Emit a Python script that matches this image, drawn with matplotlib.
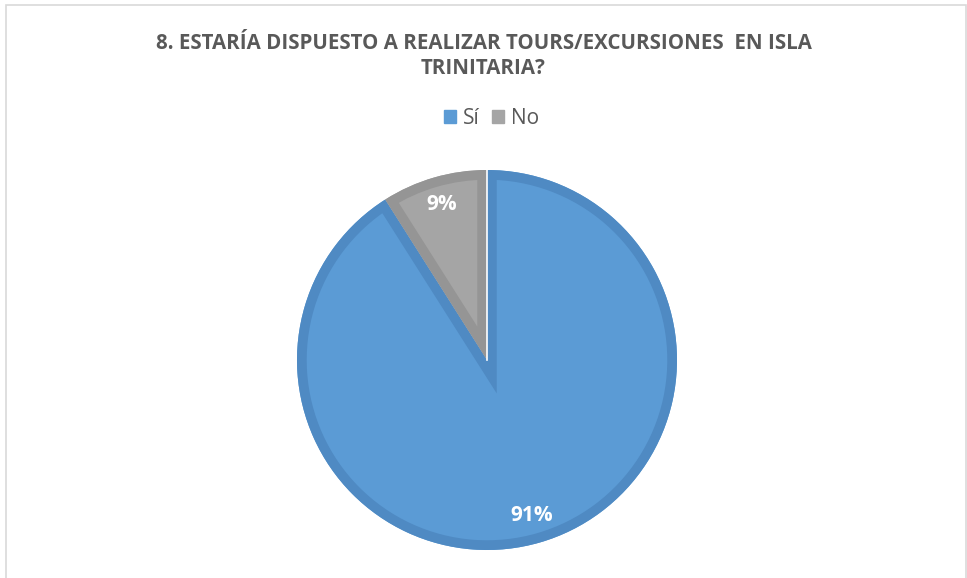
import numpy as np
import matplotlib.pyplot as plt
from matplotlib.patches import Rectangle, Wedge

# data
labels = ["Sí", "No"]
values = [91, 9]
fill_colors = ["#5B9BD5", "#A5A5A5"]
edge_colors = ["#4F8AC3", "#959595"]

title = "8. ESTARÍA DISPUESTO A REALIZAR TOURS/EXCURSIONES  EN ISLA\nTRINITARIA?"

plt.rcParams["font.family"] = ["Open Sans", "DejaVu Sans"]

fig = plt.figure(figsize=(9.67, 5.78), dpi=100)

# chart frame
fig.patches.append(Rectangle((6 / 967, -0.05), 960 / 967, 1.05 - 5 / 578,
                             transform=fig.transFigure, fill=False,
                             edgecolor="#D9D9D9", linewidth=1.2))

ax = fig.add_axes([297 / 967, 28 / 578, 380 / 967, 380 / 578])
wedges, texts, autotexts = ax.pie(
    values, colors=fill_colors, startangle=90, counterclock=False,
    autopct="%1.0f%%", pctdistance=0.85, radius=1,
    textprops=dict(color="white", fontsize=15, fontweight="bold"),
)

# thick outline drawn inside each slice
for w, ec in zip(wedges, edge_colors):
    clip = Wedge(w.center, w.r, w.theta1, w.theta2, transform=ax.transData)
    outline = Wedge(w.center, w.r, w.theta1, w.theta2, fill=False,
                    edgecolor=ec, linewidth=14, joinstyle="miter", zorder=2)
    ax.add_patch(outline)
    outline.set_clip_path(clip.get_path(), ax.transData)

for t in autotexts:
    t.set_zorder(5)

# thin white separator at the top
ang = np.deg2rad(wedges[0].theta2)
ax.plot([0, np.cos(ang)], [0, np.sin(ang)], color="white", lw=1.2, zorder=3)

ax.set_xlim(-1, 1)
ax.set_ylim(-1, 1)
ax.set_aspect("equal")
ax.axis("off")

fig.text(0.5, 1 - 56 / 578, title, ha="center", va="center",
         fontsize=14.8, fontweight="bold", color="#595959",
         linespacing=1.3)

handles = [plt.Rectangle((0, 0), 1, 1, color=c) for c in fill_colors]
fig.legend(handles, labels, loc="center",
           bbox_to_anchor=(0.5 + 8 / 967, 1 - 118 / 578),
           ncol=2, frameon=False, fontsize=15, labelcolor="#595959",
           handlelength=0.6, handleheight=0.6, handletextpad=0.35,
           columnspacing=0.55)

fig.savefig("out.png", dpi=100)
